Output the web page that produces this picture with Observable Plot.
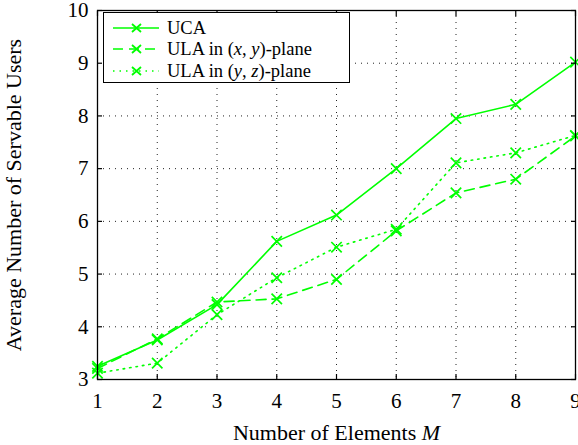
<!DOCTYPE html>
<html><head><meta charset="utf-8">
<script src="https://cdn.jsdelivr.net/npm/d3@7"></script>
<script src="https://cdn.jsdelivr.net/npm/@observablehq/plot@0.6"></script>
<style>
body{margin:0;background:#fff;}
#wrap{position:relative;width:578px;height:445px;font-family:"Liberation Serif","Times New Roman",serif;}
#legend{position:absolute;left:103px;top:12px;width:247px;height:71px;border:1.5px solid #000;background:#fff;box-sizing:border-box;font-size:18.5px;color:#000;}
#legend .row{position:absolute;left:0;height:20px;display:flex;align-items:center;}
#legend .row span{margin-left:5px;white-space:nowrap;}
</style>
</head><body>
<div id="wrap"></div>
<script>
const M = [1, 2, 3, 4, 5, 6, 7, 8, 9];
const uca   = [3.25, 3.75, 4.42, 5.62, 6.12, 7.00, 7.95, 8.22, 9.02];
const ulaXY = [3.21, 3.77, 4.47, 4.53, 4.90, 5.82, 6.54, 6.80, 7.62];
const ulaYZ = [3.12, 3.31, 4.23, 4.93, 5.51, 5.85, 7.11, 7.30, 7.63];
const xTicks = [1, 2, 3, 4, 5, 6, 7, 8, 9];
const yTicks = [3, 4, 5, 6, 7, 8, 9, 10];
const seriesNames = ["UCA", "ULA in (x, y)-plane", "ULA in (y, z)-plane"];
const seriesHTML = ["UCA", "ULA in (<i>x</i>, <i>y</i>)-plane", "ULA in (<i>y</i>, <i>z</i>)-plane"];
const dashes = [null, "10,6", "1.5,5"];
const green = "#00ff00";
const xLabel = "Number of Elements M";
const yLabel = "Average Number of Servable Users";

const allVals = [uca, ulaXY, ulaYZ];
const rows = [];
allVals.forEach((vals, s) => vals.forEach((v, i) => rows.push({series: seriesNames[s], s, M: M[i], users: v})));

const ff = "Liberation Serif, Times New Roman, serif";
const lineMarks = seriesNames.map((name, s) =>
  Plot.line(rows.filter(d => d.s === s), {x: "M", y: "users", stroke: green, strokeWidth: 1.6, strokeDasharray: dashes[s]})
);

const chart = Plot.plot({
  width: 578, height: 445,
  marginLeft: 97, marginRight: 3, marginTop: 10, marginBottom: 66,
  style: {fontFamily: ff, fontSize: "21px", color: "#000", background: "#fff", overflow: "visible"},
  x: {domain: [1, 9]},
  y: {domain: [3, 10]},
  marks: [
    Plot.gridX(xTicks.slice(1, -1), {stroke: "#222", strokeOpacity: 1, strokeDasharray: "1,5", strokeWidth: 1}),
    Plot.gridY(yTicks.slice(1, -1), {stroke: "#222", strokeOpacity: 1, strokeDasharray: "1,5", strokeWidth: 1}),
    ...lineMarks,
    Plot.dot(rows, {x: "M", y: "users", symbol: "times", r: 4.8, stroke: green, strokeWidth: 1.7}),
    Plot.frame({stroke: "#000", strokeWidth: 1.3}),
    Plot.axisX(xTicks, {anchor: "bottom", tickSize: -5, tickFormat: () => "", label: null, strokeWidth: 1.2}),
    Plot.axisX(xTicks, {anchor: "top", tickSize: -5, tickFormat: () => "", label: null, strokeWidth: 1.2}),
    Plot.axisY(yTicks, {anchor: "left", tickSize: -5, tickFormat: () => "", label: null, strokeWidth: 1.2}),
    Plot.axisY(yTicks, {anchor: "right", tickSize: -5, tickFormat: () => "", label: null, strokeWidth: 1.2}),
    Plot.axisX(xTicks, {anchor: "bottom", tickSize: 0, tickPadding: 14, fontSize: 21, tickFormat: d3.format("d"), label: xLabel, labelArrow: "none", labelAnchor: "center", labelOffset: 60}),
    Plot.axisY(yTicks, {anchor: "left", tickSize: 0, tickPadding: 9, fontSize: 21, tickFormat: d3.format("d"), label: yLabel, labelArrow: "none", labelAnchor: "center", labelOffset: 92})
  ]
});
document.getElementById("wrap").appendChild(chart);

// italic M in x label, label font size
chart.querySelectorAll("text").forEach(t => {
  const c = t.textContent.replace(/\s*[→↑]\s*/g, "").trim();
  if (c === xLabel) {
    t.textContent = "Number of Elements ";
    const ts = document.createElementNS("http://www.w3.org/2000/svg", "tspan");
    ts.setAttribute("font-style", "italic");
    ts.textContent = "M";
    t.appendChild(ts);
    t.setAttribute("font-size", "22");
  } else if (c === yLabel) {
    t.textContent = yLabel;
    t.setAttribute("font-size", "22");
  }
});

// legend
const lg = document.createElement("div");
lg.id = "legend";
const rowTops = [5, 26, 48];
seriesNames.forEach((n, s) => {
  const r = document.createElement("div");
  r.className = "row";
  r.style.top = rowTops[s] + "px";
  const dash = dashes[s] ? `stroke-dasharray="${dashes[s]}"` : "";
  r.innerHTML = `<svg width="58" height="20" style="display:block"><line x1="9" x2="55" y1="10" y2="10" stroke="${green}" stroke-width="1.6" ${dash}/><path d="M28,6L37,14M28,14L37,6" stroke="${green}" stroke-width="1.8"/></svg><span>${seriesHTML[s]}</span>`;
  lg.appendChild(r);
});
document.getElementById("wrap").appendChild(lg);
</script>
</body></html>
